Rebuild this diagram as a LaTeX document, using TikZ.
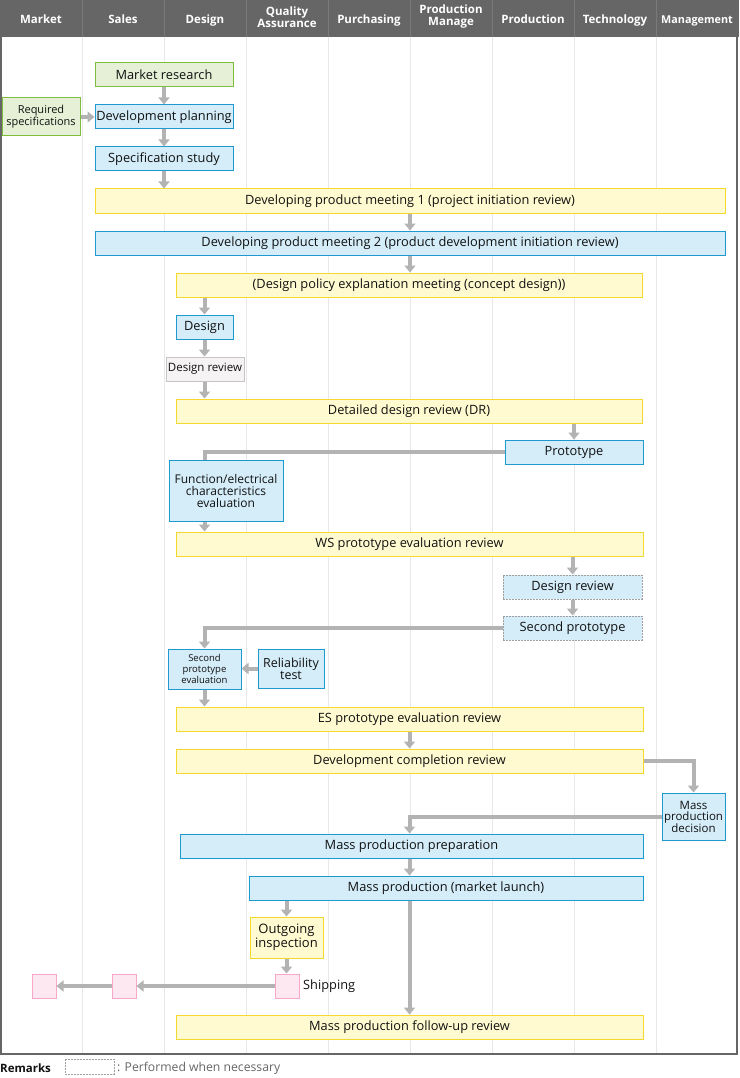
\documentclass[tikz,border=0pt]{standalone}
\usepackage{fontspec}
\setmainfont{Open Sans}
\usetikzlibrary{arrows.meta,calc}
\definecolor{hdr}{HTML}{666666}
\definecolor{hdrsep}{HTML}{7A7A7A}
\definecolor{lane}{HTML}{E8E8E8}
\definecolor{gfill}{HTML}{E5F0D6}
\definecolor{gline}{HTML}{7DBE3C}
\definecolor{bfill}{HTML}{D4EDF9}
\definecolor{bline}{HTML}{1E9AD0}
\definecolor{yfill}{HTML}{FFFACF}
\definecolor{yline}{HTML}{F3D830}
\definecolor{rfill}{HTML}{F5F3F3}
\definecolor{rline}{HTML}{C8C4C4}
\definecolor{pfill}{HTML}{FDE8F1}
\definecolor{pline}{HTML}{F7A8C8}
\definecolor{conn}{HTML}{B3B3B3}
\definecolor{dline}{HTML}{A0A0A0}
\definecolor{txt}{HTML}{111111}
\newcommand\bx[7]{\node[#1, minimum width={(#5-#3)*1pt}, minimum height={(#6-#4)*1pt}] (#2) at ({(#3+#5)/2},{(#4+#6)/2}) {#7};}
\tikzset{
  base/.style={draw, line width=1pt, inner sep=0pt, align=center, text=txt, font=\fontsize{12.8}{13}\selectfont},
  gbox/.style={base, fill=gfill, draw=gline},
  bbox/.style={base, fill=bfill, draw=bline},
  ybox/.style={base, fill=yfill, draw=yline},
  rbox/.style={base, fill=rfill, draw=rline},
  dbox/.style={base, fill=bfill, draw=dline, dash pattern=on 2pt off 1pt},
  pbox/.style={base, fill=pfill, draw=pline},
  hd/.style={text=white, font=\bfseries\fontsize{11.5}{12}\selectfont, align=center, inner sep=0pt},
  hd1/.style={hd, anchor=base},
  arr/.style={draw=conn, line width=4pt, -{Triangle[width=11pt,length=7pt]}},
  ln/.style={draw=conn, line width=4pt},
}
\begin{document}
\begin{tikzpicture}[x=1pt,y=-1pt]
\useasboundingbox (0,0) rectangle (739,1078);
\fill[white] (0,0) rectangle (739,1078);
% lanes
\foreach \x in {82,164,246,328,410,492,574,656} \draw[lane, line width=1pt] (\x,37) -- (\x,1054);
% header
\fill[hdr] (0,0) rectangle (739,37);
\foreach \x in {82,164,246,328,410,492,574,656} \draw[hdrsep, line width=1pt] (\x,0) -- (\x,37);
% frame
\draw[hdr, line width=2pt] (1,37) -- (1,1054) -- (737,1054) -- (737,37);
\node[hd1] (h1) at (41,24) {Market};
\node[hd1] (h2) at (123,24) {Sales};
\node[hd1] (h3) at (205,24) {Design};
\node[hd] (h4) at (287,17) {Quality\\Assurance};
\node[hd1] (h5) at (369,24) {Purchasing};
\node[hd] (h6) at (451,17) {Production\\Manage};
\node[hd1] (h7) at (533,24) {Production};
\node[hd1] (h8) at (615,24) {Technology};
\node[hd1, font=\bfseries\fontsize{10.8}{12}\selectfont] (h9) at (697,24) {Management};
% nodes
\bx{gbox}{mr}{95}{63}{233}{87}{Market research}
\bx{gbox, font=\fontsize{11}{12}\selectfont}{req}{2}{98}{80}{136}{Required\\specifications}
\bx{bbox}{dp}{95}{105}{233}{129}{Development planning}
\bx{bbox}{ss}{95}{147}{233}{171}{Specification study}
\bx{ybox}{m1}{95}{189}{725}{213}{Developing product meeting 1 (project initiation review)}
\bx{bbox}{m2}{95}{231}{725}{255}{Developing product meeting 2 (product development initiation review)}
\bx{ybox}{pol}{176}{273}{642}{297}{(Design policy explanation meeting (concept design))}
\bx{bbox}{desn}{176}{315}{233}{339}{Design}
\bx{rbox, font=\fontsize{11.5}{12}\selectfont}{dr1}{166}{357}{244}{381}{Design review}
\bx{ybox}{ddr}{176}{399}{642}{423}{Detailed design review (DR)}
\bx{bbox}{proto}{505}{440}{643}{464}{Prototype}
\bx{bbox, font=\fontsize{12}{12}\selectfont}{feval}{169}{460}{283}{521}{Function/electrical\\characteristics\\evaluation}
\bx{ybox}{ws}{176}{532}{643}{556}{WS prototype evaluation review}
\bx{dbox}{drd}{503}{575}{642}{599}{Design review}
\bx{dbox}{sproto}{503}{616}{642}{640}{Second prototype}
\bx{bbox, font=\fontsize{9.5}{11}\selectfont}{spe}{168}{649}{241}{689}{Second\\prototype\\evaluation}
\bx{bbox, font=\fontsize{12.5}{11}\selectfont}{rel}{258}{649}{324}{688}{Reliability\\test}
\bx{ybox}{es}{176}{707}{643}{731}{ES prototype evaluation review}
\bx{ybox}{dc}{176}{749}{643}{773}{Development completion review}
\bx{bbox, font=\fontsize{11.5}{11.5}\selectfont}{mpd}{662}{793}{725}{840}{Mass\\production\\decision}
\bx{bbox}{mpp}{180}{834}{643}{858}{Mass production preparation}
\bx{bbox}{mp}{249}{876}{643}{900}{Mass production (market launch)}
\bx{ybox, font=\fontsize{13}{13.5}\selectfont}{oi}{250}{917}{323}{958}{Outgoing\\inspection}
\bx{pbox}{ship}{275}{974}{299}{998}{}
\bx{pbox}{p2}{112}{974}{136}{998}{}
\bx{pbox}{p1}{32}{974}{56}{998}{}
\node[anchor=west, inner sep=0pt, text=txt, font=\fontsize{12.8}{13}\selectfont] (shipl) at (303,986) {Shipping};
\bx{ybox}{fu}{176}{1015}{643}{1039}{Mass production follow-up review}
% connectors
\draw[arr] (mr.south) -- (dp.north);
\draw[arr] (req.east) -- (dp.west);
\draw[arr] (dp.south) -- (ss.north);
\draw[arr] (ss.south) -- (ss.south |- m1.north);
\draw[arr] (m1.south) -- (m2.north);
\draw[arr] (m2.south) -- (m2.south |- pol.north);
\draw[arr] (desn.north |- pol.south) -- (desn.north);
\draw[arr] (desn.south) -- (desn.south |- dr1.north);
\draw[arr] (desn.south |- dr1.south) -- (desn.south |- ddr.north);
\draw[arr] (proto.north |- ddr.south) -- (proto.north);
\draw[ln] (proto.west) -| (feval.north -| desn);
\draw[arr] (feval.south -| desn) -- (ws.north -| desn);
\draw[arr] (drd.north |- ws.south) -- (drd.north);
\draw[arr] (drd.south) -- (sproto.north);
\draw[arr] (sproto.west) -| (spe.north);
\draw[arr] (rel.west) -- (rel.west -| spe.east);
\draw[arr] (spe.south) -- (spe.south |- es.north);
\draw[arr] (es.south) -- (es.south |- dc.north);
\draw[arr] (dc.east) -| (mpd.north);
\draw[arr] (mpd.west) -| (mpp.north -| fu);
\draw[arr] (mpp.south -| fu) -- (mp.north -| fu);
\draw[arr] (oi.north |- mp.south) -- (oi.north);
\draw[arr] (oi.south) -- (ship.north -| oi);
\draw[arr] (mp.south -| fu) -- (fu.north);
\draw[arr] (ship.west) -- (p2.east);
\draw[arr] (p2.west) -- (p1.east);
% remarks
\node[anchor=west, inner sep=0pt, text=txt, font=\bfseries\fontsize{11.5}{12}\selectfont] (rem) at (0,1068) {Remarks};
\draw[dline, line width=1pt, dash pattern=on 2pt off 1pt] (65,1059) rectangle (114,1074);
\node[anchor=west, inner sep=0pt, text=hdr, font=\fontsize{12.2}{12}\selectfont] (reml) at (117,1068) {: Performed when necessary};
\end{tikzpicture}
\end{document}
